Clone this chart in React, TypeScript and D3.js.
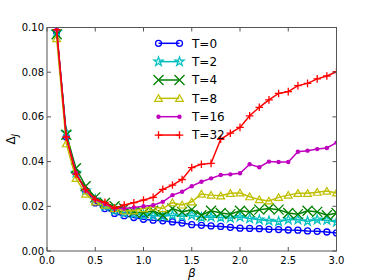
import * as d3 from 'd3';

const beta = [0.1, 0.2, 0.3, 0.4, 0.5, 0.6, 0.7, 0.8, 0.9, 1.0, 1.1, 1.2, 1.3, 1.4, 1.5,
  1.6, 1.7, 1.8, 1.9, 2.0, 2.1, 2.2, 2.3, 2.4, 2.5, 2.6, 2.7, 2.8, 2.9, 3.0];

const t0 = [0.098, 0.051, 0.035, 0.027, 0.0215, 0.019, 0.0168, 0.0158, 0.015, 0.0142, 0.0138, 0.0135, 0.013, 0.0125, 0.0118,
  0.0115, 0.0112, 0.011, 0.0106, 0.0102, 0.0101, 0.01, 0.0097, 0.0096, 0.0094, 0.0093, 0.009, 0.0088, 0.0085, 0.0081];
const t2 = [0.098, 0.053, 0.035, 0.027, 0.023, 0.02, 0.018, 0.017, 0.0165, 0.016, 0.0158, 0.0155, 0.016, 0.0155, 0.016,
  0.015, 0.0152, 0.015, 0.0148, 0.0152, 0.0145, 0.014, 0.0135, 0.0132, 0.014, 0.014, 0.0133, 0.014, 0.0138, 0.013];
const t4 = [0.097, 0.052, 0.037, 0.029, 0.024, 0.0215, 0.02, 0.019, 0.0175, 0.017, 0.018, 0.016, 0.019, 0.0175, 0.0185,
  0.016, 0.018, 0.017, 0.0165, 0.018, 0.0175, 0.0185, 0.019, 0.0185, 0.017, 0.0165, 0.018, 0.0175, 0.016, 0.017];
const t8 = [0.095, 0.048, 0.0325, 0.0255, 0.022, 0.0205, 0.019, 0.018, 0.018, 0.019, 0.0198, 0.019, 0.0216, 0.0206, 0.022,
  0.0255, 0.025, 0.0247, 0.0258, 0.026, 0.0243, 0.023, 0.0224, 0.024, 0.025, 0.0258, 0.0258, 0.0263, 0.0268, 0.026];
const t16 = [0.099, 0.051, 0.035, 0.027, 0.023, 0.021, 0.019, 0.019, 0.0195, 0.02, 0.0205, 0.022, 0.025, 0.0265, 0.029,
  0.031, 0.0325, 0.034, 0.0343, 0.0348, 0.0388, 0.0375, 0.04, 0.0398, 0.0398, 0.0444, 0.0449, 0.0456, 0.0461, 0.0485];
const t32 = [0.099, 0.051, 0.0344, 0.0276, 0.0231, 0.0218, 0.0191, 0.0206, 0.0216, 0.0228, 0.024, 0.0276, 0.0295, 0.032, 0.0373,
  0.0388, 0.0392, 0.05, 0.0527, 0.0553, 0.0605, 0.0643, 0.0676, 0.0705, 0.0713, 0.074, 0.075, 0.077, 0.0783, 0.0802];

const labels = ['T=0', 'T=2', 'T=4', 'T=8', 'T=16', 'T=32'];
const seriesValues = [t0, t2, t4, t8, t16, t32];
const colors = ['#0000ff', '#00bfbf', '#008000', '#bfbf00', '#bf00bf', '#ff0000'];
const markers = ['circle', 'star', 'x', 'triangle', 'dot', 'plus'];

const xTicks = [0, 0.5, 1, 1.5, 2, 2.5, 3];
const yTicks = [0, 0.02, 0.04, 0.06, 0.08, 0.1];

const width = 374;
const height = 280;
const margin = { top: 27.5, right: 37.5, bottom: 29, left: 47 };

function Marker({ kind, x, y, color }: { kind: string; x: number; y: number; color: string }) {
  if (kind === 'circle') {
    return <circle cx={x} cy={y} r={3} fill="none" stroke={color} strokeWidth={1.3} />;
  }
  if (kind === 'star') {
    const p = d3.symbol(d3.symbolStar, 26)();
    return <path d={p} transform={`translate(${x},${y})`} fill="none" stroke={color} strokeWidth={1.2} />;
  }
  if (kind === 'triangle') {
    const p = d3.symbol(d3.symbolTriangle, 26)();
    return <path d={p} transform={`translate(${x},${y + 0.8})`} fill="none" stroke={color} strokeWidth={1.2} />;
  }
  if (kind === 'x') {
    const s = 5;
    return <path d={`M${x - s},${y - s}L${x + s},${y + s}M${x - s},${y + s}L${x + s},${y - s}`} stroke={color} strokeWidth={1.3} />;
  }
  if (kind === 'plus') {
    const s = 3.8;
    return <path d={`M${x - s},${y}L${x + s},${y}M${x},${y - s}L${x},${y + s}`} stroke={color} strokeWidth={1.3} />;
  }
  return <circle cx={x} cy={y} r={2.2} fill={color} />;
}

export default function App() {
  const x = d3.scaleLinear([0, 3], [margin.left, width - margin.right]);
  const y = d3.scaleLinear([0, 0.1], [height - margin.bottom, margin.top]);
  const line = d3.line<number>().x((_, i) => x(beta[i])).y(d => y(d));
  const font = 'DejaVu Sans, sans-serif';
  const x0 = x(0), x1 = x(3), y0 = y(0), y1 = y(0.1);

  return (
    <svg width={width} height={height} style={{ position: 'absolute', left: 0, top: 0, background: '#fff' }}>
      <defs>
        <clipPath id="plot">
          <rect x={x0} y={y1} width={x1 - x0} height={y0 - y1} />
        </clipPath>
      </defs>
      <g clipPath="url(#plot)">
        {seriesValues.map((vals, si) => (
          <g key={si}>
            <path d={line(vals) ?? ''} fill="none" stroke={colors[si]} strokeWidth={1.5} />
            {vals.map((v, i) => (
              <Marker key={i} kind={markers[si]} x={x(beta[i])} y={y(v)} color={colors[si]} />
            ))}
          </g>
        ))}
      </g>
      <rect x={x0} y={y1} width={x1 - x0} height={y0 - y1} fill="none" stroke="#555" strokeWidth={1} />
      {xTicks.map(t => (
        <g key={t}>
          <line x1={x(t)} x2={x(t)} y1={y0} y2={y0 - 4} stroke="#555" />
          <line x1={x(t)} x2={x(t)} y1={y1} y2={y1 + 4} stroke="#555" />
          <text x={x(t)} y={y0 + 13} textAnchor="middle" fontSize={10} fontFamily={font} fill="#000">{t.toFixed(1)}</text>
        </g>
      ))}
      {yTicks.map(t => (
        <g key={t}>
          <line x1={x0} x2={x0 + 4} y1={y(t)} y2={y(t)} stroke="#555" />
          <line x1={x1} x2={x1 - 4} y1={y(t)} y2={y(t)} stroke="#555" />
          <text x={x0 - 3} y={y(t) + 3.5} textAnchor="end" fontSize={10} fontFamily={font} fill="#000">{t.toFixed(2)}</text>
        </g>
      ))}
      <text x={(x0 + x1) / 2} y={height - 3} textAnchor="middle" fontSize={12} fontStyle="italic" fontFamily={font}>β</text>
      <text transform={`translate(15,${(y0 + y1) / 2}) rotate(-90)`} textAnchor="middle" fontSize={12} fontFamily={font}>
        Δ<tspan fontSize={8.5} dy={3} fontStyle="italic">J</tspan>
      </text>
      {labels.map((lab, i) => {
        const ly = 43.3 + i * 18.35;
        return (
          <g key={lab}>
            <line x1={158.5} x2={179.5} y1={ly} y2={ly} stroke={colors[i]} strokeWidth={1.5} />
            {i !== 2 && i !== 5 && <Marker kind={markers[i]} x={158.5} y={ly} color={colors[i]} />}
            <Marker kind={markers[i]} x={179.5} y={ly} color={colors[i]} />
            {(i === 2 || i === 5) && <Marker kind={markers[i]} x={158.5} y={ly} color={colors[i]} />}
            <text x={192} y={ly + 4.3} fontSize={12} fontFamily={font}>{lab}</text>
          </g>
        );
      })}
    </svg>
  );
}
